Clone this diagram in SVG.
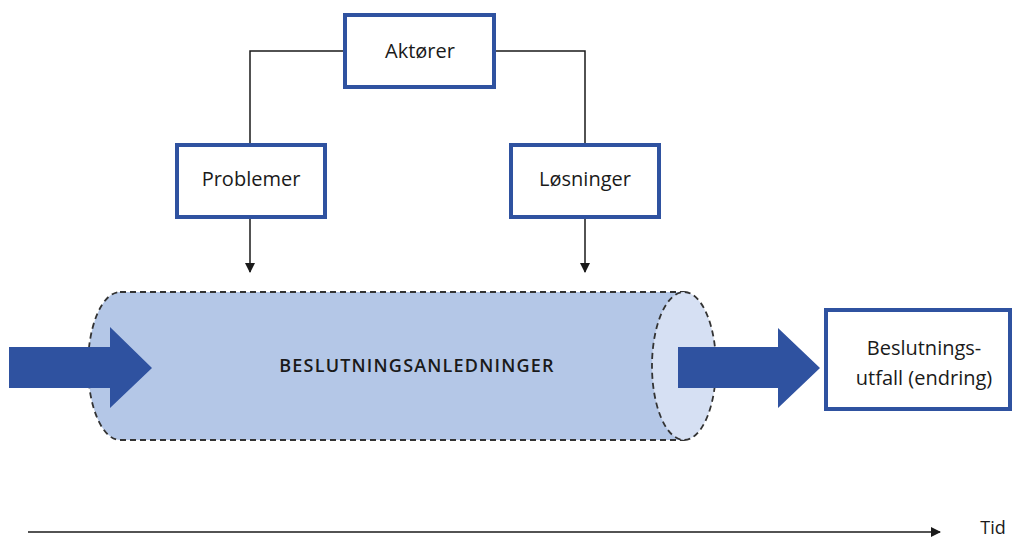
<svg xmlns="http://www.w3.org/2000/svg" width="1014" height="541" viewBox="0 0 1014 541">
<style>
.box{fill:#fff;stroke:#2f52a0;stroke-width:4}
.t{font-family:"Open Sans","Liberation Sans",sans-serif;font-size:20px;fill:#1a1a1a;text-anchor:middle}
.ln{fill:none;stroke:#1a1a1a;stroke-width:1.5}
.big{fill:#2f52a0}
</style>
<defs>
<marker id="ah" markerWidth="10" markerHeight="10" refX="9" refY="5" orient="auto" markerUnits="userSpaceOnUse">
<path d="M0,0 L10,5 L0,10 z" fill="#1a1a1a"/>
</marker>
</defs>
<g id="cylinder">
<path d="M120,292 L684,292 L684,440 L120,440 A32,74 0 0 1 120,292 z" fill="#b4c7e7" stroke="#333" stroke-width="1.8" stroke-dasharray="6,4"/>
<ellipse cx="684" cy="366" rx="32" ry="74" fill="#d6e0f3" stroke="#333" stroke-width="1.8" stroke-dasharray="6,4"/>
<text x="417" y="372" class="t" style="font-size:18px;font-weight:600;letter-spacing:1.2px">BESLUTNINGSANLEDNINGER</text>
</g>
<g id="connectors">
<polyline class="ln" points="345,51 250,51 250,145"/>
<polyline class="ln" points="494,51 585,51 585,145"/>
<line class="ln" x1="250" y1="219" x2="250" y2="272" marker-end="url(#ah)"/>
<line class="ln" x1="585" y1="219" x2="585" y2="272" marker-end="url(#ah)"/>
<line class="ln" x1="28" y1="532" x2="940" y2="532" marker-end="url(#ah)"/>
<polygon class="big" points="9,347 110,347 110,327 152,368 110,408 110,388 9,388"/>
<polygon class="big" points="678,347 778,347 778,328 820,368 778,408 778,388 678,388"/>
</g>
<g id="aktorer">
<rect class="box" x="345" y="15" width="149" height="72"/>
<text class="t" x="420" y="58">Aktører</text>
</g>
<g id="problemer">
<rect class="box" x="177" y="145" width="148" height="72"/>
<text class="t" x="251" y="186">Problemer</text>
</g>
<g id="losninger">
<rect class="box" x="511" y="145" width="148" height="72"/>
<text class="t" x="585" y="186">Løsninger</text>
</g>
<g id="utfall">
<rect class="box" x="826" y="310" width="184" height="99"/>
<text class="t" x="924" y="355">Beslutnings-</text>
<text class="t" x="924" y="385">utfall (endring)</text>
</g>
<text class="t" x="993" y="534" style="font-size:18px">Tid</text>
</svg>
